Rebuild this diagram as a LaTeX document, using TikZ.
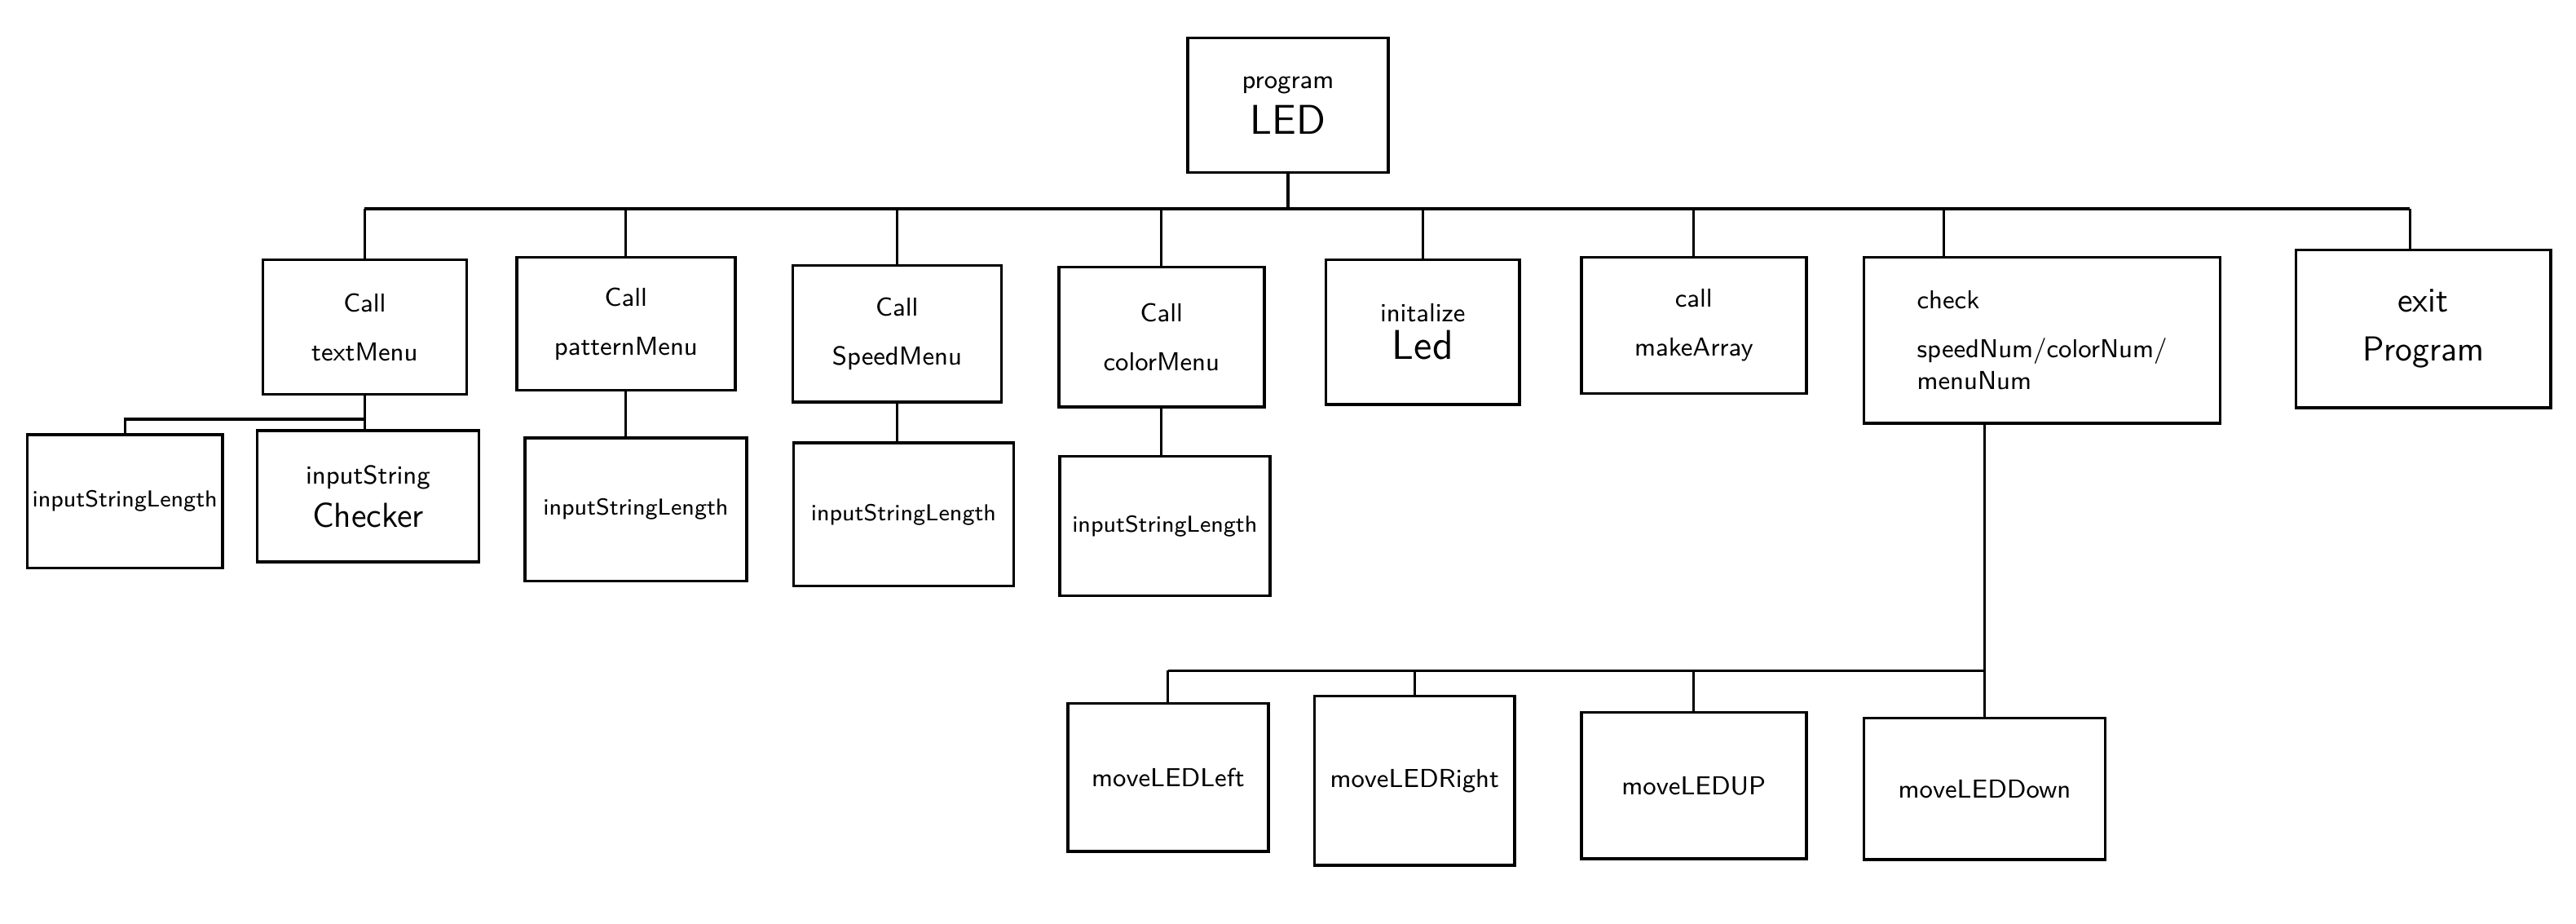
\documentclass[tikz,border=0pt]{standalone}
\tikzset{
  blk/.style={draw, line width=1pt, align=center, font=\sffamily\small, inner sep=1pt},
  wire/.style={line width=0.9pt}
}
\begin{document}
\begin{tikzpicture}[x=0.02cm, y=-0.02cm] %program LED structure
    \useasboundingbox (0,0) rectangle (1568,562);

    % top
    \node[blk, minimum width=2.44cm, minimum height=1.64cm] (prog) at (784,64) {program\\[3pt]{\Large LED}};

    % first level
    \node[blk, minimum width=2.48cm, minimum height=1.64cm] (txt) at (222,199) {Call\\[6pt]textMenu};
    \node[blk, minimum width=2.66cm, minimum height=1.62cm] (pat) at (381,197) {Call\\[6pt]patternMenu};
    \node[blk, minimum width=2.54cm, minimum height=1.66cm] (spd) at (546,203) {Call\\[6pt]SpeedMenu};
    \node[blk, minimum width=2.50cm, minimum height=1.70cm] (col) at (707,205) {Call\\[6pt]colorMenu};
    \node[blk, minimum width=2.36cm, minimum height=1.76cm] (ini) at (866,202) {initalize\\[2pt]{\Large Led}};
    \node[blk, minimum width=2.74cm, minimum height=1.66cm] (mka) at (1031,198) {call\\[6pt]makeArray};
    \node[blk, align=left, minimum width=4.34cm, minimum height=2.02cm] (chk) at (1243,207) {check\\[6pt]speedNum/colorNum/\\menuNum};
    \node[blk, minimum width=3.10cm, minimum height=1.92cm] (ext) at (1475,200) {{\large exit}\\[6pt]{\large Program}};

    % second level
    \node[blk, font=\sffamily\footnotesize, minimum width=2.38cm, minimum height=1.62cm] (isl1) at (76,305) {inputStringLength};
    \node[blk, minimum width=2.70cm, minimum height=1.60cm] (isc) at (224,302) {inputString\\[4pt]{\large Checker}};
    \node[blk, font=\sffamily\footnotesize, minimum width=2.70cm, minimum height=1.74cm] (isl2) at (387,310) {inputStringLength};
    \node[blk, font=\sffamily\footnotesize, minimum width=2.68cm, minimum height=1.74cm] (isl3) at (550,313) {inputStringLength};
    \node[blk, font=\sffamily\footnotesize, minimum width=2.56cm, minimum height=1.70cm] (isl4) at (709,320) {inputStringLength};

    % third level
    \node[blk, minimum width=2.44cm, minimum height=1.80cm] (mvl) at (711,473) {moveLEDLeft};
    \node[blk, minimum width=2.44cm, minimum height=2.06cm] (mvr) at (861,475) {moveLEDRight};
    \node[blk, minimum width=2.74cm, minimum height=1.78cm] (mvu) at (1031,478) {moveLEDUP};
    \node[blk, minimum width=2.94cm, minimum height=1.72cm] (mvd) at (1208,480) {moveLEDDown};

    % connectors
    \coordinate (busL) at (222,127);
    \coordinate (busR) at (1467,127);
    \coordinate (chkin) at (1183,127);
    \draw[wire] (prog.south) -- (prog.south |- busL);
    \draw[wire] (busL) -- (busR);
    \foreach \n in {txt,pat,spd,col,ini,mka}
        \draw[wire] (\n.north |- busL) -- (\n.north);
    \draw[wire] (chkin) -- (chkin |- chk.north);
    \draw[wire] (busR) -- (busR |- ext.north);

    \coordinate (tj) at (222,255);
    \draw[wire] (txt.south) -- (tj) -- (tj |- isc.north);
    \draw[wire] (tj) -| (isl1.north);
    \draw[wire] (pat.south) -- (pat.south |- isl2.north);
    \draw[wire] (spd.south) -- (spd.south |- isl3.north);
    \draw[wire] (col.south) -- (col.south |- isl4.north);

    \coordinate (cj) at (1208,408);
    \draw[wire] (chk.south -| cj) -- (cj);
    \draw[wire] (mvl.north |- cj) -- (cj);
    \foreach \n in {mvl,mvr,mvu,mvd}
        \draw[wire] (\n.north |- cj) -- (\n.north);
\end{tikzpicture}
\end{document}
